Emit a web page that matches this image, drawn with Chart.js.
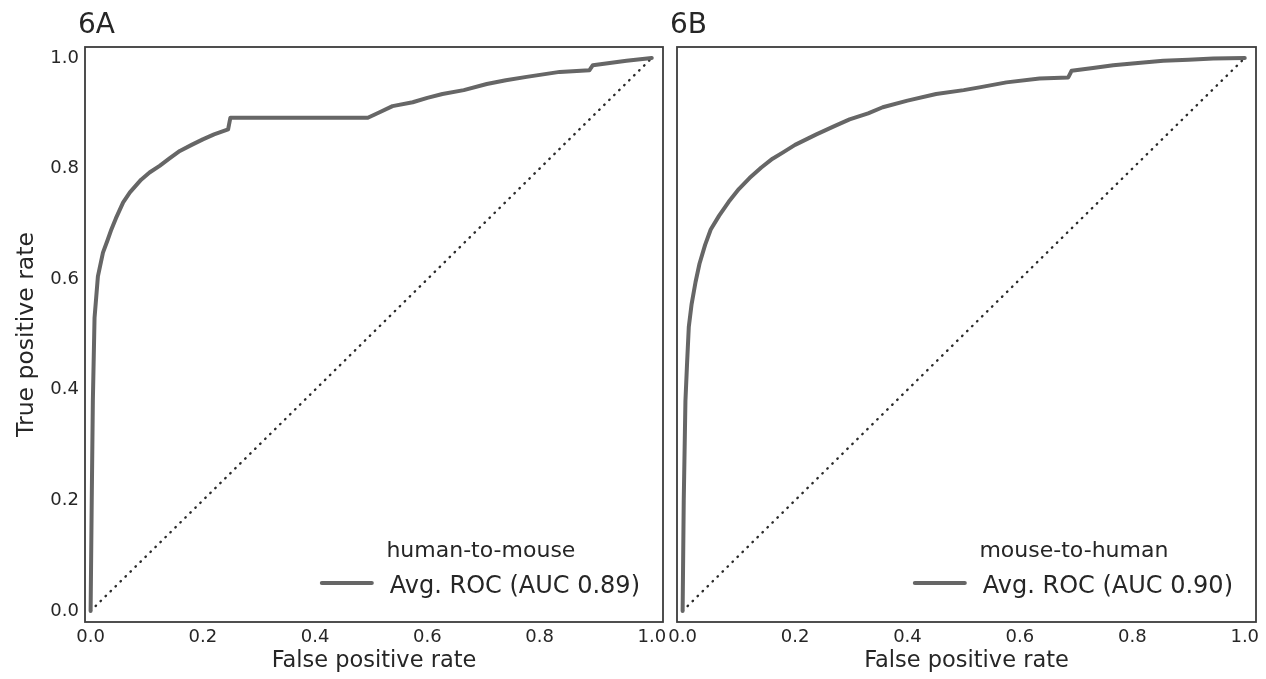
<!DOCTYPE html>
<html>
<head>
<meta charset="utf-8">
<script src="https://cdn.jsdelivr.net/npm/chart.js@4.4.1/dist/chart.umd.min.js"></script>
<style>
  html, body { margin: 0; padding: 0; background: #fff; }
  body { width: 1266px; height: 679px; position: relative; overflow: hidden; }
  .panel { position: absolute; top: 0; height: 679px; }
  #boxA { left: 0; width: 680px; }
  #boxB { left: 655px; width: 611px; }
</style>
</head>
<body>
<div class="panel" id="boxA"><canvas id="chartA"></canvas></div>
<div class="panel" id="boxB"><canvas id="chartB"></canvas></div>
<script>
// ---- data ----
const panelLabels = ["6A", "6B"];
const legendTitles = ["human-to-mouse", "mouse-to-human"];
const seriesNames = ["Avg. ROC (AUC 0.89)", "Avg. ROC (AUC 0.90)"];

const fprA = [0, 0.002, 0.004, 0.007, 0.013, 0.022, 0.03, 0.037, 0.045, 0.058, 0.07, 0.09, 0.105,
  0.123, 0.14, 0.159, 0.18, 0.2, 0.22, 0.245, 0.249, 0.494, 0.515, 0.538, 0.574, 0.6, 0.627, 0.665,
  0.706, 0.74, 0.777, 0.836, 0.889, 0.895, 0.955, 1.0];
const tprA = [0, 0.2, 0.38, 0.53, 0.605, 0.648, 0.67, 0.69, 0.71, 0.739, 0.757, 0.78, 0.793,
  0.805, 0.818, 0.832, 0.843, 0.853, 0.862, 0.871, 0.892, 0.892, 0.902, 0.913, 0.92, 0.928, 0.935, 0.942,
  0.953, 0.96, 0.966, 0.975, 0.978, 0.987, 0.995, 1.0];

const fprB = [0, 0.002, 0.005, 0.008, 0.011, 0.016, 0.023, 0.03, 0.04, 0.05, 0.065, 0.082, 0.1,
  0.119, 0.14, 0.16, 0.178, 0.2, 0.238, 0.27, 0.297, 0.33, 0.356, 0.4, 0.451, 0.5, 0.528, 0.576,
  0.635, 0.686, 0.692, 0.73, 0.766, 0.81, 0.855, 0.9, 0.944, 1.0];
const tprB = [0, 0.2, 0.38, 0.45, 0.514, 0.555, 0.595, 0.628, 0.662, 0.69, 0.715, 0.74, 0.763,
  0.783, 0.802, 0.818, 0.829, 0.843, 0.862, 0.877, 0.889, 0.9, 0.911, 0.923, 0.935, 0.942, 0.947, 0.956,
  0.963, 0.965, 0.977, 0.982, 0.987, 0.991, 0.995, 0.997, 0.999, 1.0];

// chance diagonal
const chanceX = [0, 1];
const chanceY = [0, 1];

const tickValues = [0, 0.2, 0.4, 0.6, 0.8, 1.0];

const FONT = '"DejaVu Sans", "Liberation Sans", sans-serif';
const TEXT = "#262626";
const ROC_COLOR = "#666666";

function toPoints(xs, ys) {
  return xs.map((x, i) => ({ x: x, y: ys[i] }));
}

// frame, panel label and legend drawn on top of the plot
const panelDecor = {
  id: "panelDecor",
  afterDraw(chart, args, opts) {
    const { ctx, chartArea: a } = chart;
    ctx.save();
    ctx.strokeStyle = "#3c3c3c";
    ctx.lineWidth = 1.8;
    ctx.strokeRect(a.left, a.top, a.right - a.left, a.bottom - a.top);

    ctx.fillStyle = TEXT;
    ctx.textBaseline = "alphabetic";
    ctx.textAlign = "left";
    ctx.font = "28px " + FONT;
    ctx.fillText(opts.label, opts.labelX, 33);

    // legend (lower right, no frame)
    const ds = chart.data.datasets[0];
    ctx.font = "24px " + FONT;
    const textW = ctx.measureText(ds.label).width;
    const textEnd = a.right - 23;
    const textStart = textEnd - textW;
    const lineEnd = textStart - 18;
    const lineStart = lineEnd - 50;
    ctx.fillText(ds.label, textStart, a.bottom - 29);

    ctx.strokeStyle = ds.borderColor;
    ctx.lineWidth = ds.borderWidth;
    ctx.lineCap = "round";
    ctx.beginPath();
    ctx.moveTo(lineStart, a.bottom - 39);
    ctx.lineTo(lineEnd, a.bottom - 39);
    ctx.stroke();

    ctx.font = "22px " + FONT;
    ctx.textAlign = "center";
    ctx.fillText(opts.title, (lineStart + textEnd) / 2, a.bottom - 65);
    ctx.restore();
  }
};

function makeChart(id, fpr, tpr, idx, showY, pad) {
  return new Chart(document.getElementById(id), {
    type: "line",
    data: {
      datasets: [
        {
          label: seriesNames[idx],
          data: toPoints(fpr, tpr),
          borderColor: ROC_COLOR,
          borderWidth: 4,
          borderJoinStyle: "round",
          borderCapStyle: "round",
          pointRadius: 0,
          tension: 0
        },
        {
          label: "chance",
          data: toPoints(chanceX, chanceY),
          borderColor: "#2a2a2a",
          borderWidth: 2.4,
          borderDash: [0.5, 6.5],
          borderCapStyle: "round",
          pointRadius: 0,
          tension: 0
        }
      ]
    },
    options: {
      responsive: true,
      maintainAspectRatio: false,
      animation: false,
      layout: { autoPadding: false, padding: pad },
      plugins: {
        legend: { display: false },
        tooltip: { enabled: false },
        panelDecor: { label: panelLabels[idx], title: legendTitles[idx], labelX: idx === 0 ? 78 : 15 }
      },
      scales: {
        x: {
          type: "linear",
          min: -0.01,
          max: 1.02,
          afterBuildTicks: s => { s.ticks = tickValues.map(v => ({ value: v })); },
          afterFit: s => { s.height = 57; },
          grid: { display: false, drawTicks: false },
          border: { display: false },
          ticks: {
            autoSkip: false, maxRotation: 0, padding: 5, color: TEXT,
            font: { family: FONT, size: 18 },
            callback: v => v.toFixed(1)
          },
          title: {
            display: true, text: "False positive rate", color: TEXT,
            font: { family: FONT, size: 22.5 }, padding: { top: 0, bottom: 4 }
          }
        },
        y: {
          type: "linear",
          display: showY,
          min: -0.02,
          max: 1.02,
          afterBuildTicks: s => { s.ticks = tickValues.map(v => ({ value: v })); },
          afterFit: s => { s.width = showY ? 85 : 0; },
          grid: { display: false, drawTicks: false },
          border: { display: false },
          ticks: {
            autoSkip: false, padding: 6, color: TEXT,
            font: { family: FONT, size: 18 },
            callback: v => v.toFixed(1)
          },
          title: {
            display: true, text: "True positive rate", color: TEXT,
            font: { family: FONT, size: 23.5 }, padding: { top: 13, bottom: 0 }
          }
        }
      }
    },
    plugins: [panelDecor]
  });
}

makeChart("chartA", fprA, tprA, 0, true, { left: 0, right: 17, top: 47, bottom: 0 });
makeChart("chartB", fprB, tprB, 1, false, { left: 22, right: 10, top: 47, bottom: 0 });
</script>
</body>
</html>
